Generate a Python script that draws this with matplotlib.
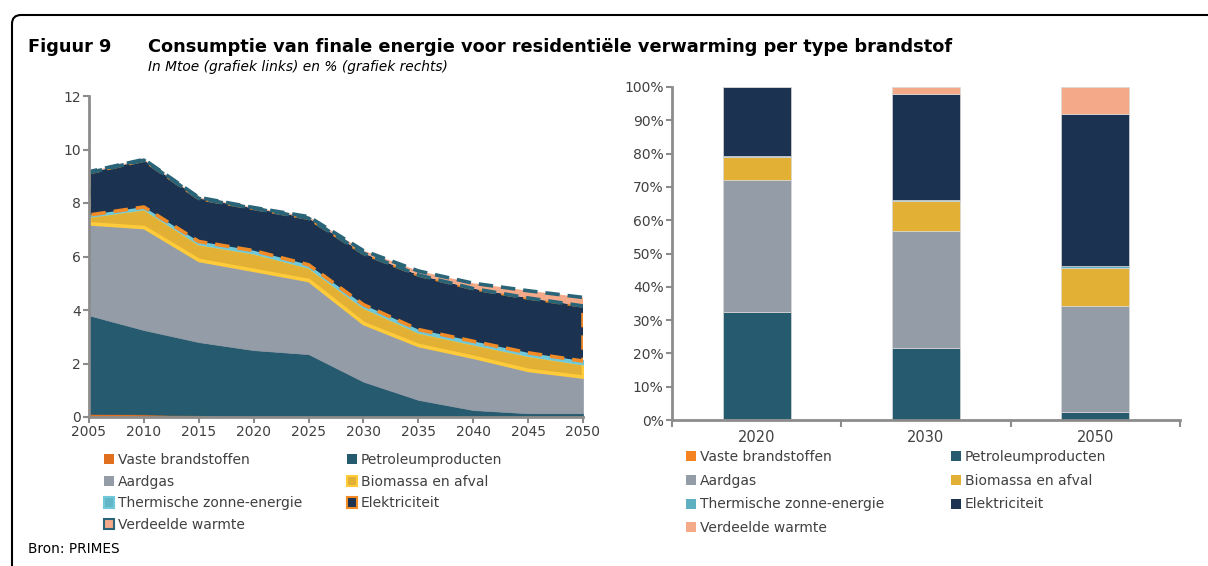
import matplotlib
matplotlib.use("Agg")
import matplotlib.pyplot as plt
from matplotlib.patches import FancyBboxPatch, Patch
import numpy as np

plt.rcParams['font.family'] = ['DejaVu Sans']

# ---------------- data ----------------
years = [2005, 2010, 2015, 2020, 2025, 2030, 2035, 2040, 2045, 2050]
series_names = ["Vaste brandstoffen", "Petroleumproducten", "Aardgas", "Biomassa en afval",
                "Thermische zonne-energie", "Elektriciteit", "Verdeelde warmte"]
vaste = [0.12, 0.10, 0.06, 0.03, 0.02, 0.01, 0.01, 0.01, 0.01, 0.01]
petroleum = [3.68, 3.15, 2.74, 2.47, 2.33, 1.31, 0.63, 0.25, 0.13, 0.13]
aardgas = [3.44, 3.85, 3.07, 3.00, 2.77, 2.19, 2.05, 1.99, 1.62, 1.37]
biomassa = [0.28, 0.70, 0.62, 0.65, 0.50, 0.61, 0.50, 0.50, 0.56, 0.49]
thermisch = [0.03, 0.05, 0.07, 0.07, 0.07, 0.08, 0.08, 0.08, 0.08, 0.09]
elektriciteit = [1.58, 1.75, 1.61, 1.58, 1.74, 1.92, 2.04, 1.97, 2.05, 2.06]
warmte = [0.04, 0.03, 0.04, 0.03, 0.06, 0.10, 0.15, 0.20, 0.27, 0.32]

bar_cats = ["2020", "2030", "2050"]
pct_vaste = [0.3, 0.1, 0.1]
pct_petroleum = [32.2, 21.4, 2.4]
pct_aardgas = [39.5, 35.4, 31.6]
pct_biomassa = [7.0, 8.8, 11.4]
pct_thermisch = [0.4, 0.5, 0.8]
pct_elektriciteit = [20.6, 31.8, 45.7]
pct_warmte = [0.0, 2.0, 8.0]

# ---------------- styles ----------------
fills_left = ["#E07020", "#265A6E", "#939CA7", "#E1B034", "#62B6C6", "#1B3350", "#F4AA88"]
edges_left = ["#E07020", "#265A6E", "#939CA7", "#FFCB3A", "#70C8D8", "#F28A25", "#2A6478"]
styles_left = ["-", "-", "-", "-", "-", (0, (4, 2.2)), (0, (4, 2.2))]
lws_left = [1.0, 0.5, 0.5, 2.6, 2.2, 2.6, 2.6]
fills_right = ["#F58220", "#265A6E", "#939CA7", "#E1B034", "#5EB0C0", "#1B3350", "#F4AA88"]

text_col = "#404040"
spine_col = "#8C8C8C"

W, H = 1208, 566
fig = plt.figure(figsize=(W / 100, H / 100), dpi=100)

def px_box(l, t, r, b):
    return [l / W, 1 - b / H, (r - l) / W, (b - t) / H]

# border (rounded top-left corner)
border = FancyBboxPatch((0.12, -2.0), 20, 5.51 + 2.0,
                        boxstyle="round,pad=0,rounding_size=0.09",
                        transform=fig.dpi_scale_trans, fill=False,
                        edgecolor="black", linewidth=1.5)
fig.add_artist(border)

# titles
fig.text(28 / W, 1 - 47 / H, "Figuur 9", fontsize=12.8, fontweight="bold",
         va="center", ha="left", color="black")
fig.text(148 / W, 1 - 47 / H,
         "Consumptie van finale energie voor residentiële verwarming per type brandstof",
         fontsize=12.8, fontweight="bold", va="center", ha="left", color="black")
fig.text(148 / W, 1 - 67 / H, "In Mtoe (grafiek links) en % (grafiek rechts)",
         fontsize=9.9, style="italic", va="center", ha="left", color="black")
fig.text(28 / W, 1 - 549 / H, "Bron: PRIMES", fontsize=9.8, va="center", ha="left",
         color="black")

# ---------------- left chart ----------------
axL = fig.add_axes(px_box(89, 96, 583, 417))
data_left = [vaste, petroleum, aardgas, biomassa, thermisch, elektriciteit, warmte]
x = np.array(years, dtype=float)
base = np.zeros(len(years))
handles_left = []
for i, vals in enumerate(data_left):
    top = base + np.array(vals)
    axL.fill_between(x, base, top, facecolor=fills_left[i], edgecolor=edges_left[i],
                     linewidth=lws_left[i], linestyle=styles_left[i], zorder=2 + i * 0.01)
    handles_left.append(Patch(facecolor=fills_left[i], edgecolor=edges_left[i],
                              linewidth=1.5 if i in (3, 4, 5, 6) else 0))
    base = top

axL.set_xlim(2005, 2050)
axL.set_ylim(0, 12)
axL.set_xticks(years)
axL.set_yticks(range(0, 13, 2))
for s in ["top", "right"]:
    axL.spines[s].set_visible(False)
for s in ["left", "bottom"]:
    axL.spines[s].set_color(spine_col)
    axL.spines[s].set_linewidth(2)
    axL.spines[s].set_zorder(5)
axL.tick_params(axis="both", colors=spine_col, labelcolor=text_col, labelsize=10,
                direction="out", length=4, width=1.5, pad=2)

# ---------------- right chart ----------------
axR = fig.add_axes(px_box(672, 87, 1180, 420))
data_right = [pct_vaste, pct_petroleum, pct_aardgas, pct_biomassa, pct_thermisch,
              pct_elektriciteit, pct_warmte]
xr = np.arange(len(bar_cats))
bottom = np.zeros(len(bar_cats))
handles_right = []
for i, vals in enumerate(data_right):
    v = np.array(vals)
    axR.bar(xr, v, bottom=bottom, width=0.4, color=fills_right[i], edgecolor="#D8D8D8",
            linewidth=0.5, zorder=2)
    handles_right.append(Patch(facecolor=fills_right[i], edgecolor="none"))
    bottom = bottom + v

axR.set_xlim(-0.5, 2.5)
axR.set_ylim(0, 100)
axR.set_yticks(range(0, 101, 10))
axR.set_yticklabels([f"{v}%" for v in range(0, 101, 10)])
axR.set_xticks(xr)
axR.set_xticklabels(bar_cats)
axR.set_xticks([-0.5, 0.5, 1.5, 2.5], minor=True)
for s in ["top", "right"]:
    axR.spines[s].set_visible(False)
for s in ["left", "bottom"]:
    axR.spines[s].set_color(spine_col)
    axR.spines[s].set_linewidth(2)
    axR.spines[s].set_zorder(5)
axR.tick_params(axis="y", colors=spine_col, labelcolor=text_col, labelsize=10,
                direction="out", length=4, width=1.5, pad=2)
axR.tick_params(axis="x", which="major", length=0, labelcolor=text_col, labelsize=10.5, pad=7)
axR.tick_params(axis="x", which="minor", colors=spine_col, direction="out", length=5, width=1.5)

# ---------------- legends ----------------
def add_legend(handles, labels, x_px, y_px, spacing):
    leg = fig.legend(handles, labels, loc="upper left",
                     bbox_to_anchor=(x_px / W, 1 - y_px / H), frameon=False,
                     fontsize=10, labelcolor=text_col, handlelength=0.75, handleheight=0.75,
                     handletextpad=0.25, labelspacing=spacing, borderpad=0, borderaxespad=0)
    return leg

col1 = [0, 2, 4, 6]
col2 = [1, 3, 5]
add_legend([handles_left[i] for i in col1], [series_names[i] for i in col1], 104, 453, 0.55)
add_legend([handles_left[i] for i in col2], [series_names[i] for i in col2], 347, 453, 0.55)
add_legend([handles_right[i] for i in col1], [series_names[i] for i in col1], 686, 450, 0.7)
add_legend([handles_right[i] for i in col2], [series_names[i] for i in col2], 951, 450, 0.7)

fig.savefig("out.png", dpi=100)
